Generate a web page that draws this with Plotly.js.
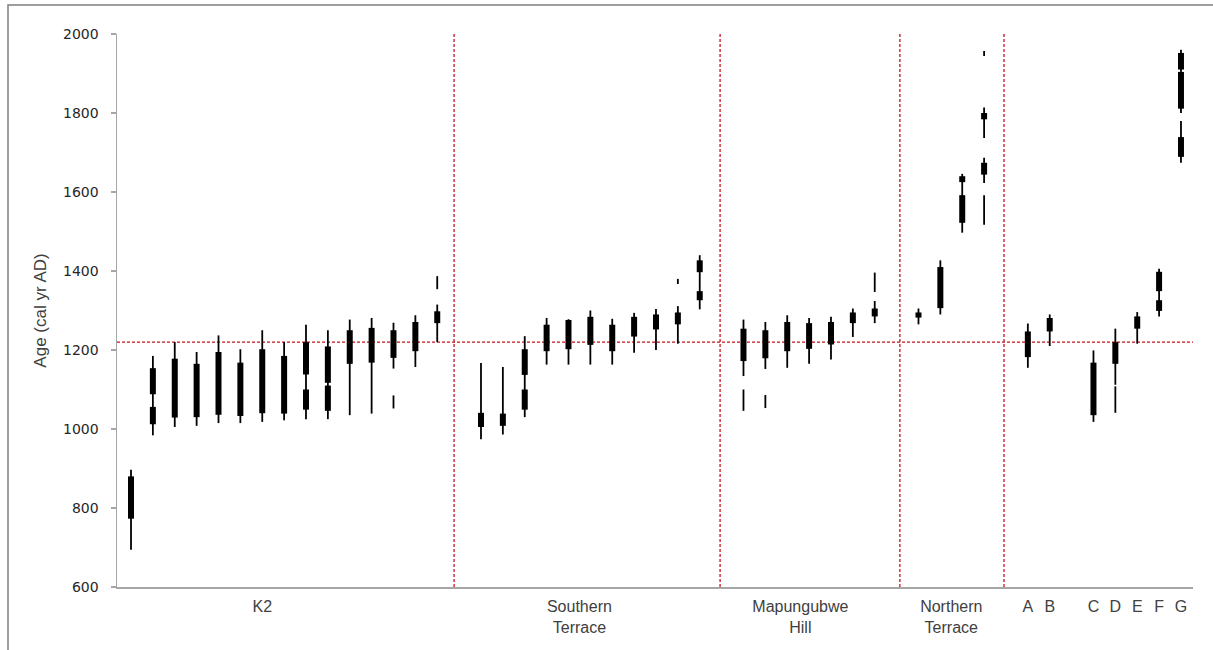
<!DOCTYPE html>
<html>
<head>
<meta charset="utf-8">
<script src="https://cdn.plot.ly/plotly-3.0.1.min.js"></script>
<style>
  html, body { margin: 0; padding: 0; background: #fff; }
  #chart { width: 1213px; height: 650px; }
</style>
</head>
<body>
<div id="chart"></div>
<script>
// ---- Data (cal yr AD) ----
// 2-sigma ranges (thin lines): sample position index, low, high
const thinIdx = [0, 1, 2, 3, 4, 5, 6, 7, 8, 9, 10, 11, 12, 12, 13, 14, 14,
                 16, 17, 18, 19, 20, 21, 22, 23, 24, 25, 25, 26,
                 28, 28, 29, 29, 30, 31, 32, 33, 34, 34,
                 36, 37, 38, 39, 39, 39, 39,
                 41, 42, 44, 45, 45, 46, 47, 48, 48];
const thinLo  = [694, 984, 1005, 1008, 1015, 1015, 1018, 1022, 1025, 1025, 1035, 1039, 1153, 1052, 1157, 1220, 1354,
                 974, 986, 1030, 1163, 1163, 1163, 1163, 1193, 1200, 1216, 1367, 1303,
                 1134, 1046, 1152, 1053, 1155, 1165, 1176, 1233, 1268, 1347,
                 1265, 1290, 1497, 1944, 1737, 1623, 1517,
                 1155, 1210, 1018, 1112, 1041, 1216, 1285, 1800, 1674];
const thinHi  = [897, 1185, 1220, 1195, 1237, 1202, 1250, 1220, 1264, 1250, 1277, 1281, 1269, 1085, 1288, 1315, 1387,
                 1167, 1157, 1235, 1281, 1278, 1300, 1279, 1294, 1304, 1311, 1380, 1440,
                 1277, 1100, 1271, 1086, 1288, 1281, 1284, 1305, 1324, 1396,
                 1305, 1427, 1646, 1957, 1814, 1687, 1592,
                 1267, 1290, 1199, 1254, 1108, 1296, 1406, 1960, 1780];
// 1-sigma ranges (thick bars): sample position index, low, high
const thickIdx = [0, 1, 1, 2, 3, 4, 5, 6, 7, 8, 8, 9, 9, 10, 11, 12, 13, 14,
                  16, 17, 18, 18, 19, 20, 21, 22, 23, 24, 25, 26, 26,
                  28, 29, 30, 31, 32, 33, 34,
                  36, 37, 38, 38, 39, 39,
                  41, 42, 44, 45, 46, 47, 47, 48, 48, 48];
const thickLo  = [773, 1088, 1012, 1029, 1030, 1036, 1033, 1040, 1039, 1138, 1049, 1117, 1046, 1165, 1168, 1180, 1197, 1268,
                  1005, 1008, 1137, 1049, 1197, 1202, 1213, 1197, 1234, 1252, 1265, 1397, 1326,
                  1172, 1179, 1197, 1203, 1214, 1268, 1285,
                  1282, 1306, 1625, 1522, 1784, 1644,
                  1182, 1247, 1035, 1165, 1254, 1349, 1299, 1910, 1811, 1689];
const thickHi  = [880, 1154, 1056, 1178, 1165, 1195, 1168, 1202, 1185, 1220, 1100, 1209, 1110, 1250, 1256, 1250, 1271, 1298,
                  1041, 1039, 1202, 1100, 1264, 1276, 1284, 1264, 1284, 1290, 1295, 1427, 1349,
                  1254, 1250, 1271, 1268, 1271, 1295, 1305,
                  1295, 1410, 1640, 1592, 1800, 1674,
                  1247, 1281, 1168, 1220, 1285, 1398, 1326, 1952, 1904, 1739];

// Group / sample labels on the x axis
const labelPos  = [6, 20.5, 30.6, 37.5, 41, 42, 44, 45, 46, 47, 48];
const labelText = ["K2", "Southern<br>Terrace", "Mapungubwe<br>Hill", "Northern<br>Terrace",
                   "A", "B", "C", "D", "E", "F", "G"];
const yTicks = [600, 800, 1000, 1200, 1400, 1600, 1800, 2000];

// Reference lines
const refAge = 1220;
const separators = [14.77, 26.93, 35.15, 39.91];

// ---- Build segment traces ----
function segs(idx, lo, hi) {
  const x = [], y = [];
  for (let i = 0; i < idx.length; i++) {
    x.push(idx[i], idx[i], null);
    y.push(lo[i], hi[i], null);
  }
  return {x, y};
}
const thin = segs(thinIdx, thinLo, thinHi);
const thick = segs(thickIdx, thickLo, thickHi);

const traces = [
  {type: 'scatter', mode: 'lines', x: thin.x, y: thin.y, connectgaps: false,
   line: {color: '#000', width: 1.8}, hoverinfo: 'skip', showlegend: false},
  {type: 'scatter', mode: 'lines', x: thick.x, y: thick.y, connectgaps: false,
   line: {color: '#000', width: 6}, hoverinfo: 'skip', showlegend: false}
];

const red = '#c8141e';
const shapes = [];
shapes.push({type: 'line', xref: 'paper', yref: 'y', x0: 0, x1: 1, y0: refAge, y1: refAge,
             line: {color: red, width: 1.3, dash: '3px,2px'}, layer: 'below'});
separators.forEach(s => shapes.push({type: 'line', xref: 'x', yref: 'y', x0: s, x1: s, y0: 600, y1: 2000,
             line: {color: red, width: 1.3, dash: '3px,2px'}, layer: 'below'}));
// outer frame
shapes.push({type: 'rect', xref: 'paper', yref: 'paper',
             x0: (8 - 117) / 1076, x1: (1230 - 117) / 1076,
             y0: (587 - 670) / 553, y1: (587 - 5) / 553,
             line: {color: '#7f7f7f', width: 1.5}, fillcolor: 'rgba(0,0,0,0)'});

const layout = {
  width: 1213, height: 650,
  margin: {l: 117, r: 20, t: 34, b: 63},
  paper_bgcolor: '#fff', plot_bgcolor: '#fff',
  showlegend: false,
  xaxis: {
    range: [-0.64, 48.55],
    showgrid: false, zeroline: false,
    showline: true, linecolor: '#a6a6a6', linewidth: 1.5,
    ticks: '', tickmode: 'array', tickvals: labelPos, ticktext: labelText,
    tickfont: {family: 'Liberation Sans, Arial, sans-serif', size: 16, color: '#404040'},
    ticklabelstandoff: 4
  },
  yaxis: {
    range: [600, 2000],
    showgrid: false, zeroline: false,
    showline: true, linecolor: '#a6a6a6', linewidth: 1.5,
    ticks: 'outside', ticklen: 5, tickcolor: '#a6a6a6', tickwidth: 1.5,
    tickmode: 'array', tickvals: yTicks,
    tickfont: {family: 'DejaVu Sans, Verdana, sans-serif', size: 14, color: '#262626'},
    ticklabelstandoff: 9,
    title: {text: 'Age (cal yr AD)', font: {family: 'Liberation Sans, Arial, sans-serif', size: 17, color: '#404040'},
            standoff: 12}
  },
  shapes: shapes
};

Plotly.newPlot('chart', traces, layout, {displayModeBar: false, staticPlot: true});
</script>
</body>
</html>
